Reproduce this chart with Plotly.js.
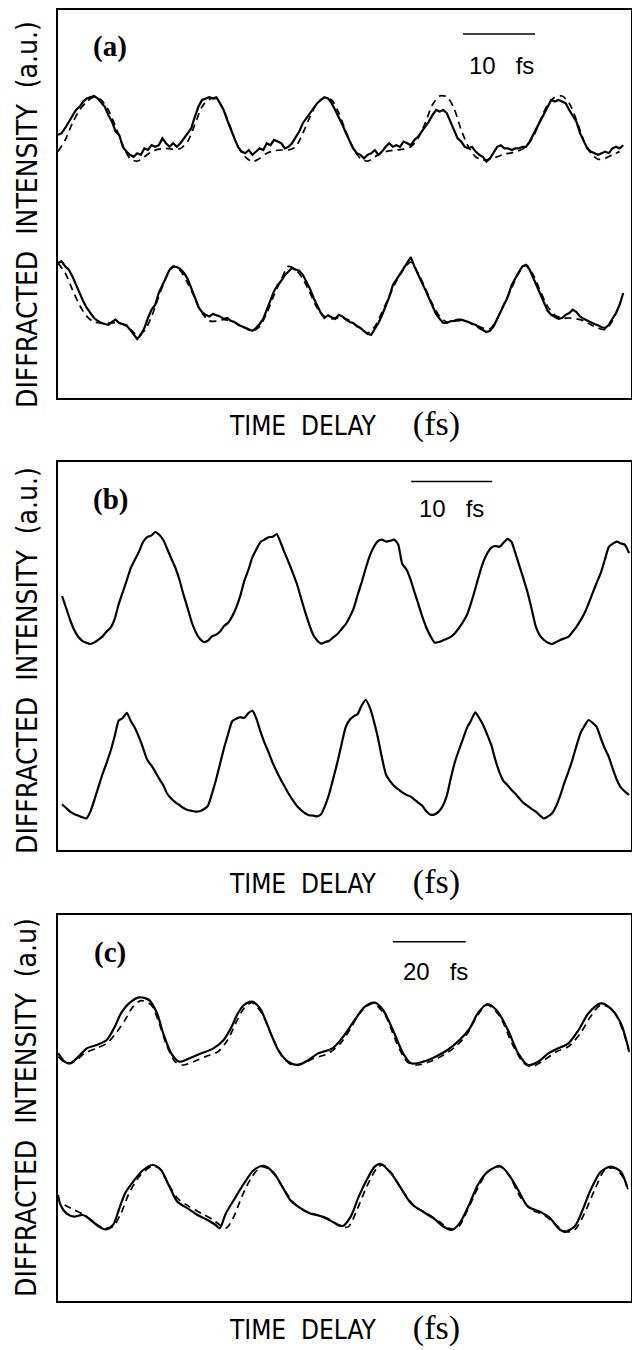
<!DOCTYPE html>
<html>
<head>
<meta charset="utf-8">
<script src="https://cdn.plot.ly/plotly-3.0.1.min.js"></script>
<style>
html,body{margin:0;padding:0;background:#fff;}
#chart{width:632px;height:1350px;}
</style>
</head>
<body>
<div id="chart"></div>
<script>
// ---------- Panel (a): time delay in fs (sampling start / step), intensity in a.u. ----------
const aSolidT0 = 0, aSolidDT = 0.5;
const aDashT0 = 0, aDashDT = 1;
const aUpperSolid = [
65.8,66.2,67.5,69.1,70.7,72,72.8,74.1,74.9,75.3,
75.5,74.9,73.7,72.8,70.7,69.1,66.6,65.8,62.8,61.6,
60.8,60.3,61.2,60.8,62.4,62,63.2,62.8,63.2,64.9,
63.7,62.8,63.7,62.8,63.7,64.9,66.2,67.4,70.3,72.8,
74.5,74.9,75.2,74.9,75.2,73.7,72,69.5,67,64.9,
62.8,61.6,61.2,62,60.8,61.6,62.4,62,63.7,63.2,
64.5,64.1,63.7,62.4,62.8,63.7,65.3,66.6,68.7,69.9,
71.2,72.4,73.7,74.5,75.2,74.9,73.7,72,70.3,68.3,
66.2,64.1,62.4,61.2,60.8,59.9,60.8,61.2,62,60.8,
61.6,62.8,63.7,62.8,63.2,62.8,64.1,63.7,63.2,64.5,
65.3,66.6,67.8,69.1,70.7,72,71.6,72,71.2,69.1,
66.6,64.9,64.1,62.8,62.4,62.8,61.6,60.8,60.3,59.1,
59.9,61.2,62.8,63.2,62.4,62.4,62,62.4,62.4,62.8,
62.8,64.1,65.8,67.4,69.5,71.2,72.8,74.5,74.1,74.5,
74.1,73.7,72,70.7,69.1,66.2,64.1,62.4,61.6,61.2,
60.8,61.2,61.6,61.2,62.4,62.8,62.4,63.2];
const aUpperFit = [
61.6,64.5,68.7,72,74.1,75.2,74.5,72,67.8,63.2,
59.9,59.2,60.3,61.6,62.2,62.4,62.2,62.4,64.1,68.3,
72.8,74.7,74.7,72,67.4,62.8,60.3,59.1,59.9,61.2,
61.8,62,62,62.8,66.2,70.3,73.7,75.1,74.5,71.2,
66.6,62.4,59.9,59.2,60.3,61.3,61.8,62,62.2,62.8,
64.9,68.7,73.3,75.5,75.3,72.4,67,62.8,60.3,59.5,
59.7,60.3,61,61.3,61.8,62.8,65.3,69.5,73.3,75.2,
75.5,73.7,69.5,64.5,61.2,59.7,59.9,60.8,61.6];
const aLowerSolid = [
33.75,34.2,32.9,32.1,30.4,28.3,26.3,24.2,22.5,21.3,
20,19.3,18.75,18.5,18.3,19,19.6,18.75,18.5,18.2,
17.1,15.8,14.75,15.8,17.5,20,22.1,23.3,26.3,28.2,
30,32.1,32.9,32.75,32.25,31.25,29.8,27.7,25.2,22.7,
21.5,20.8,20.4,21,20.7,20.4,19.8,20,19.3,19,
18.3,17.9,17.5,17,16.8,17.5,18.5,19.8,22.1,24.2,
26.7,28.2,29.3,30.7,31.5,32.5,32.1,31.8,30.8,29.2,
27.25,25,22.9,21.25,20,20.7,20.2,19.8,20.8,20.4,
19.6,19,18.75,17.9,17.5,16.7,16,15.8,17.3,18.75,
20.7,22.9,25.2,28.2,29.6,31,32.1,33.75,35.2,32.9,
30.7,29,27.1,25,22.9,21,19.8,18.75,18.75,19.2,
19.3,19.6,19.6,19.3,19,18.5,18.3,17.5,17.1,16.5,
16.8,17.9,19.8,21.8,23.5,25.4,28.2,30,31.5,32.9,
33.3,32.1,30,28.2,25.8,24,21.8,20.8,20.2,19.8,
20,20.8,21.25,22.1,21.5,20.4,19.8,19.3,19,18.5,
18.2,17.7,17.5,18.3,19.8,21.25,23.3,26.25];
const aLowerFit = [
33.75,31.25,27.1,23.2,20.4,19,18.75,18.75,18.75,18.5,
17.3,15.7,16.8,20.4,25.4,30,32.9,31.8,28.75,25,
21.25,19.3,19.2,19.6,19.3,18.5,17.5,16.7,17.9,21.25,
25.7,29.6,32.9,32.1,29.8,26.25,22.5,20.4,19.8,20,
19.8,18.75,17.5,16.25,17.9,21.5,25.4,29.2,32.1,34,
31.25,27.5,23.5,20.4,19,19.2,19.4,19,18.3,17.5,
17.3,19.8,23.75,27.5,31.25,33.3,30.8,26.7,22.9,20.7,
20,20,19.8,19.3,18.3,17.5,17.1,19.3,23.3];

// ---------- Panel (b) ----------
const bT0 = 0.5, bDT = 0.5;
const bUpper = [
63.5,60.5,57.5,55,53.3,52.3,51.8,51.5,51.9,52.6,
53.4,54.6,55.6,57.8,61.5,64.5,67.5,70.6,72.6,74.6,
77,78.2,78.6,79.5,78.8,77.5,75.2,72.8,70.5,67.5,
63.8,60.5,57,54.5,52.8,52,52.3,53.4,53.8,54.6,
56,56.8,58.4,60.6,63.5,67.3,70,73.2,75.2,77,
77.6,78.2,78.3,79,76.8,74.2,71.8,69.2,66.5,63,
59.6,56.5,53.8,52.4,51.6,52,52.3,53.2,54,55.2,
56.4,58.2,60.4,63.8,67,70.5,73.6,75.8,77.2,77.6,
77.1,77.3,77.6,76.4,71.5,70.2,67.8,64.5,61.4,58.2,
55.5,53.4,51.8,52,52.4,52.8,53.3,54.2,55.5,57,
58.8,61.8,65.2,68.8,72,74.2,75.6,76,75.8,76.8,
77.8,77,74,70.8,67.6,64.2,60,55.8,53.6,52.5,
51.8,51.5,52,52.5,52.9,53.3,54.5,55.8,57.4,59.2,
61.6,64.2,66.8,69.2,72.5,75.8,76.6,77.1,76.6,76.3,
74.2];
const bLower = [
11.4,10.5,9.6,9.0,8.6,8.2,7.9,9.6,12.6,15.8,
19,21.8,24.8,28.5,32.4,33,34.3,32.2,30.5,28.2,
25.5,22.6,21.2,19.6,17.8,16.2,14,12.8,11.9,11.2,
10.5,10,9.8,9.6,9.7,10.2,11,14,17.5,21.5,
25.5,29,32.2,32.8,33.2,33,34.2,34.8,32.8,29.6,
26.8,24.4,21.8,19.6,17.6,15.8,14,12.4,11,10,
9.2,8.7,8.6,8.4,9,11.2,14.2,18,22,26.4,
30.6,32.5,33.4,34,36.2,37.5,35.6,32.2,28,23,
18.8,17.2,16,15.2,14.4,13.8,13.4,12.6,11.8,11,
9.6,8.8,8.9,9.6,11,13.6,18,22,25,27.8,
30.6,32.4,34.4,33,31.2,28.8,26.2,22.5,19.4,17.2,
16.2,15,14,12.8,11.7,11,10.2,9.6,8.6,7.9,
8.4,9.2,11,13.6,16.7,19.5,22.5,26,29.2,31,
32.5,31.8,30.8,28,25.4,23.3,20.2,17.5,15.6,14.6,
13.75];

// ---------- Panel (c) ----------
const cUpperT = [0.1,1.8,3.4,5.6,7.9,10.6,13.4,15.6,17.3,19.5,22.3,25,27.2,28.9,31.1,33.3,36.1,39.4,42.7,45.5,47.7,49.4,51.1,53.3,55.5,57.7,60.5,63.2,66,68.8,71.5,75.4,78.7,81.5,84.3,87,89.3,92,94.8,97,100.3,103.7,107,110.3,113.1,115.3,118,120.8,123.6,126.4,129.1,131.9,134.7,137.4,140.2,143,145.7,149.1,151.8,154.6,156.8];
const cUpper = [61.92,59.83,59.42,61.08,63.17,64,65.25,68.58,71.92,74.42,75.92,75.25,71.92,66.92,61.92,59.83,60.67,61.92,63.17,65.25,68.58,71.92,74,74.83,73.17,68.58,62.75,59.83,59,60.25,61.92,63.17,66.5,70.25,73.58,74.58,72.75,67.75,61.92,59.42,59.83,61.08,62.75,65.25,68.17,71.92,74.25,72.33,67.75,61.92,59,59.83,61.92,63.17,64.42,67.75,71.92,74.42,73.17,69.42,62.75];
const cUpperFitT = [0.1,2.3,4.5,7.3,10.6,13.4,16.2,18.4,20.6,22.8,25.6,27.8,30,32.2,34.4,37.2,40.5,43.9,46.6,48.8,51.1,53.3,56,58.8,61.6,64.3,67.1,70.4,74.3,77.6,80.4,83.2,86.5,89.8,93.1,95.9,98.7,102,105.9,109.2,112.5,115.3,118,121.4,124.7,128,130.2,133.6,136.9,140.2,143.5,146.3,149.1,152.4,155.1,157];
const cUpperFit = [61.1,59.4,59.8,61.9,63.2,64.4,67.3,70.25,73.6,75.1,74,69.4,63.6,59.8,59,59.8,61.1,62.3,65.25,69.4,73.2,74.6,71.9,66.1,61.1,59,59.4,60.7,61.9,64.4,68.2,72.3,74.4,71.5,64.4,59.8,59,59.8,61.5,63.6,66.9,71.5,74,71.1,64.4,59.4,58.6,60.25,62.3,63.6,66.9,71.1,74,72.75,67.75,61.9];
const cLowerT = [0,0.7,2.3,4.5,6.8,9,11.2,13.1,15.1,16.7,18.4,20.6,23.4,26.1,28.3,30.6,32.8,35.5,38.3,41.1,43.3,44.4,46.1,48.3,51.1,53.8,56.6,59.4,61.6,63.8,66.6,69.3,72.6,75.4,78.2,80.4,82.6,84.8,87,88.7,91.5,94.2,97,100.3,103.1,105.9,108.1,110.3,113.1,115.3,118,121.4,123.6,126.4,129.1,132.4,135.2,137.4,139.1,141.9,144.1,146.3,149.1,151.8,154.6,156.3];
const cLower = [26.5,24,21.9,21.1,21.5,20.25,18.6,17.9,19,22.75,26.9,29.8,32.75,34,32.75,28.6,24.8,23.2,21.5,20.25,19,18.2,21.9,25.25,29.4,32.75,33.8,31.9,28.6,25.25,23.2,21.9,21.1,19.8,18.75,21.1,26.1,30.25,33.6,34.25,31.9,28.2,24.4,22.3,20.7,18.6,17.75,19.4,24.4,29,32.3,33.75,31.9,27.75,23.6,22.3,20.7,18.2,17.3,18.6,22.75,27.75,32.3,33.6,32.3,28.6];
const cLowerFitT = [1.8,4.5,7.3,10.1,12.8,15.1,17.3,19.5,22.3,25.6,27.8,30,32.8,36.1,39.4,42.7,46.1,48.3,50.5,53.3,56,58.8,61.6,64.9,68.2,71.5,74.9,77.6,79.8,82.1,84.8,87.6,89.3,92,94.8,98.1,101.4,104.8,107.5,109.7,112.5,115.3,118,121.4,124.1,126.9,130.2,133.6,136.3,139.6,141.9,144.6,147.4,150.2,152.9,155.1,156.8];
const cLowerFit = [24,22.75,21.5,19.4,18.2,18.6,21.9,26.9,31.1,33.6,33.2,29.8,25.7,23.6,21.9,20.25,18.2,21.1,26.1,31.1,33.6,32.3,28.6,24.4,22.3,21.5,20.25,18.6,18.6,22.75,28.6,33.2,34,31.5,27.3,23.6,21.9,19.8,18.2,18.2,22.75,28.2,32.3,33.6,31.1,26.1,22.75,21.5,19.4,17.3,17.75,21.9,27.75,32.75,33.2,31.1,27.3];

// ---------- text & scale bars ----------
const panelLabels = ["(a)", "(b)", "(c)"];
const scaleBars = [
  {label: "10\u00A0\u00A0\u00A0fs", start: 56.25, length: 10},
  {label: "10\u00A0\u00A0\u00A0fs", start: 43.6, length: 10},
  {label: "20\u00A0\u00A0\u00A0fs", start: 92, length: 20}
];
const xTitleMain = "TIME\u00A0\u00A0DELAY";
const xTitleUnit = "(fs)";
const yTitles = ["DIFFRACTED\u00A0\u00A0INTENSITY\u00A0\u00A0(a.u.)",
                 "DIFFRACTED\u00A0\u00A0INTENSITY\u00A0\u00A0(a.u.)",
                 "DIFFRACTED\u00A0\u00A0INTENSITY\u00A0\u00A0(a.u)"];

const SANS_N = "'Liberation Sans Narrow', 'DejaVu Sans Condensed', 'Arial Narrow', 'Liberation Sans', Arial, sans-serif";
const SANS = "'Liberation Sans', Arial, sans-serif";
const SERIF = "'Liberation Serif', 'Times New Roman', serif";

const solid = {color: '#000', width: 2.2};
const dashed = {color: '#000', width: 1.7, dash: '7px,5px'};
const smoothSolid = Object.assign({shape: 'spline', smoothing: 0.8}, solid);
const smoothDashed = Object.assign({shape: 'spline', smoothing: 0.8}, dashed);
const softSolid = Object.assign({shape: 'spline', smoothing: 0.5}, solid);

const traces = [
  {x0: aSolidT0, dx: aSolidDT, y: aUpperSolid, xaxis: 'x', yaxis: 'y', mode: 'lines', line: solid},
  {x0: aDashT0, dx: aDashDT, y: aUpperFit, xaxis: 'x', yaxis: 'y', mode: 'lines', line: smoothDashed},
  {x0: aSolidT0, dx: aSolidDT, y: aLowerSolid, xaxis: 'x', yaxis: 'y', mode: 'lines', line: solid},
  {x0: aDashT0, dx: aDashDT, y: aLowerFit, xaxis: 'x', yaxis: 'y', mode: 'lines', line: smoothDashed},
  {x0: bT0, dx: bDT, y: bUpper, xaxis: 'x2', yaxis: 'y2', mode: 'lines', line: softSolid},
  {x0: bT0, dx: bDT, y: bLower, xaxis: 'x2', yaxis: 'y2', mode: 'lines', line: softSolid},
  {x: cUpperT, y: cUpper, xaxis: 'x3', yaxis: 'y3', mode: 'lines', line: smoothSolid},
  {x: cUpperFitT, y: cUpperFit, xaxis: 'x3', yaxis: 'y3', mode: 'lines', line: smoothDashed},
  {x: cLowerT, y: cLower, xaxis: 'x3', yaxis: 'y3', mode: 'lines', line: smoothSolid},
  {x: cLowerFitT, y: cLowerFit, xaxis: 'x3', yaxis: 'y3', mode: 'lines', line: smoothDashed}
];

function ax(extra) {
  return Object.assign({
    showline: true, mirror: true, linecolor: '#000', linewidth: 2,
    showticklabels: false, ticks: '', showgrid: false, zeroline: false, fixedrange: true
  }, extra);
}

const layout = {
  width: 632, height: 1350,
  margin: {l: 58, r: 1, t: 0, b: 0, pad: 0},
  paper_bgcolor: '#fff', plot_bgcolor: '#fff',
  showlegend: false,
  xaxis:  ax({domain: [0, 1], range: [0, 79.58], anchor: 'y'}),
  yaxis:  ax({domain: [0.705185, 0.992593], range: [0, 97], anchor: 'x'}),
  xaxis2: ax({domain: [0, 1], range: [0, 70.74], anchor: 'y2'}),
  yaxis2: ax({domain: [0.37037, 0.657778], range: [0, 97], anchor: 'x2'}),
  xaxis3: ax({domain: [0, 1], range: [0, 157.4], anchor: 'y3'}),
  yaxis3: ax({domain: [0.036296, 0.322222], range: [0, 96.5], anchor: 'x3'}),
  shapes: [], annotations: []
};

const axPairs = [['x', 'y'], ['x2', 'y2'], ['x3', 'y3']];
const barY = [91, 92.1, 89.8];
const barTextY = [83, 85.25, 82.5];
const barTextShift = [0.3, 0, 1.8];
const labelPaperY = [0.96519, 0.62963, 0.29481];
const xTitleY = [0.68593, 0.34667, 0.0163];
const yTitleY = [0.84074, 0.51037, 0.17926];

for (let i = 0; i < 3; i++) {
  const [xr, yr] = axPairs[i];
  const sb = scaleBars[i];
  layout.shapes.push({type: 'line', xref: xr, yref: yr, x0: sb.start, x1: sb.start + sb.length,
    y0: barY[i], y1: barY[i], line: {color: '#000', width: 1.5}});
  layout.annotations.push({xref: xr, yref: yr, x: sb.start + sb.length / 2 + barTextShift[i], y: barTextY[i],
    text: sb.label, showarrow: false, xanchor: 'center', yanchor: 'middle',
    font: {family: SANS, size: 24, color: '#000'}});
  layout.annotations.push({xref: 'paper', yref: 'paper', x: 0.0908, y: labelPaperY[i],
    text: '<b>' + panelLabels[i] + '</b>', showarrow: false, xanchor: 'center', yanchor: 'middle',
    font: {family: SERIF, size: 29, color: '#000'}});
  layout.annotations.push({xref: 'paper', yref: 'paper', x: 0.5, y: xTitleY[i],
    text: xTitleMain + '\u00A0\u00A0\u00A0\u00A0\u00A0<span style="font-family:\'Liberation Serif\',serif;font-size:34px">' + xTitleUnit + '</span>',
    showarrow: false, xanchor: 'center', yanchor: 'middle',
    font: {family: SANS_N, size: 26, color: '#000'}});
  layout.annotations.push({xref: 'paper', yref: 'paper', x: -0.0541, y: yTitleY[i],
    text: yTitles[i], textangle: -90, showarrow: false, xanchor: 'center', yanchor: 'middle',
    font: {family: SANS_N, size: 28, color: '#000'}});
}

Plotly.newPlot('chart', traces, layout, {staticPlot: true, displayModeBar: false});
</script>
</body>
</html>
